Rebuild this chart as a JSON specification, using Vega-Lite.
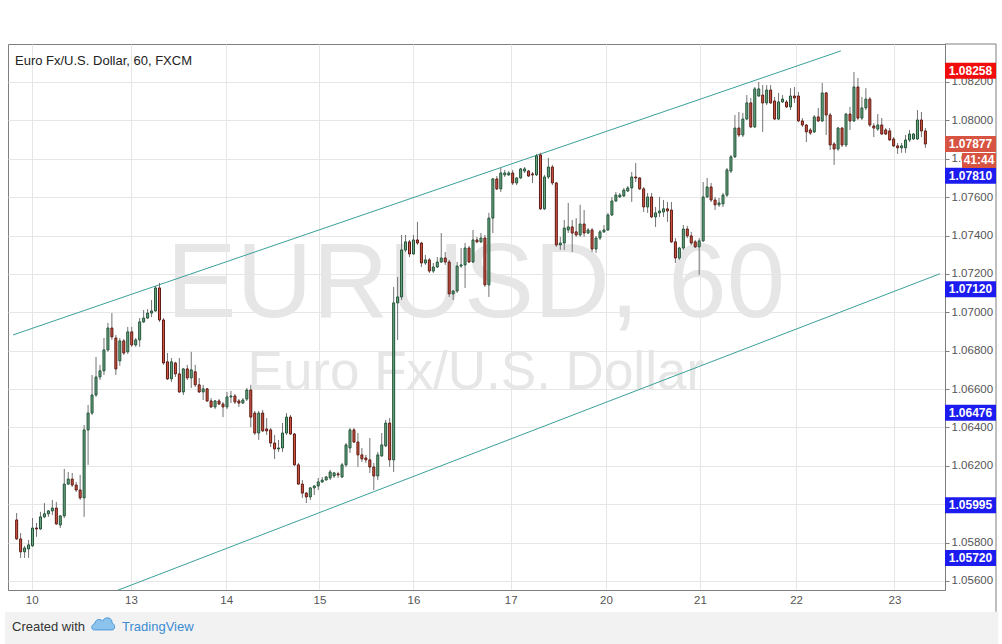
{
  "$schema": "https://vega.github.io/schema/vega-lite/v6.json",
  "width": 937,
  "height": 546,
  "autosize": "none",
  "padding": {"left": 8, "top": 44, "right": 57, "bottom": 54},
  "background": "#ffffff",
  "config": {
    "font": "Liberation Sans",
    "view": {"stroke": "#7f7f7f", "strokeWidth": 1}
  },
  "title": {
    "text": "Euro Fx/U.S. Dollar, 60, FXCM",
    "anchor": "start",
    "frame": "group",
    "offset": -24,
    "dx": 7,
    "fontSize": 13,
    "fontWeight": "normal",
    "color": "#222222",
    "font": "Liberation Sans"
  },
  "datasets": {
    "bars": [
      {"i":0,"o":1.05918,"c":1.05819,"h":1.05954,"l":1.05814},
      {"i":1,"o":1.05819,"c":1.05752,"h":1.0585,"l":1.0572},
      {"i":2,"o":1.05752,"c":1.05772,"h":1.05783,"l":1.0572},
      {"i":3,"o":1.05767,"c":1.05788,"h":1.05814,"l":1.0572},
      {"i":4,"o":1.05783,"c":1.05876,"h":1.05928,"l":1.05778},
      {"i":5,"o":1.05876,"c":1.05871,"h":1.05902,"l":1.0583},
      {"i":6,"o":1.05871,"c":1.05934,"h":1.0596,"l":1.05866},
      {"i":7,"o":1.05934,"c":1.0595,"h":1.06006,"l":1.05928},
      {"i":8,"o":1.0595,"c":1.05965,"h":1.0597,"l":1.05934},
      {"i":9,"o":1.05965,"c":1.0598,"h":1.06022,"l":1.05944},
      {"i":10,"o":1.0598,"c":1.05897,"h":1.06012,"l":1.05892},
      {"i":11,"o":1.05892,"c":1.05939,"h":1.05944,"l":1.05876},
      {"i":12,"o":1.05939,"c":1.06105,"h":1.06184,"l":1.05928},
      {"i":13,"o":1.06105,"c":1.06131,"h":1.06168,"l":1.061},
      {"i":14,"o":1.06131,"c":1.061,"h":1.06163,"l":1.0609},
      {"i":15,"o":1.061,"c":1.06074,"h":1.06116,"l":1.06064},
      {"i":16,"o":1.06074,"c":1.06033,"h":1.06153,"l":1.06022},
      {"i":17,"o":1.06033,"c":1.06387,"h":1.06413,"l":1.05934},
      {"i":18,"o":1.06387,"c":1.06475,"h":1.06517,"l":1.06205},
      {"i":19,"o":1.06475,"c":1.06569,"h":1.06673,"l":1.06465},
      {"i":20,"o":1.06569,"c":1.06663,"h":1.06767,"l":1.06559},
      {"i":21,"o":1.06663,"c":1.06695,"h":1.06726,"l":1.06647},
      {"i":22,"o":1.06695,"c":1.06804,"h":1.06866,"l":1.06673},
      {"i":23,"o":1.06804,"c":1.06918,"h":1.06945,"l":1.06794},
      {"i":24,"o":1.06918,"c":1.06872,"h":1.06996,"l":1.06856},
      {"i":25,"o":1.06866,"c":1.06705,"h":1.06882,"l":1.06673},
      {"i":26,"o":1.06747,"c":1.06851,"h":1.06866,"l":1.06721},
      {"i":27,"o":1.06851,"c":1.06788,"h":1.06861,"l":1.06778},
      {"i":28,"o":1.06794,"c":1.06898,"h":1.06924,"l":1.06783},
      {"i":29,"o":1.06898,"c":1.0683,"h":1.06924,"l":1.0682},
      {"i":30,"o":1.0683,"c":1.06856,"h":1.06866,"l":1.0682},
      {"i":31,"o":1.06856,"c":1.0695,"h":1.0697,"l":1.0682},
      {"i":32,"o":1.0695,"c":1.0697,"h":1.07012,"l":1.06944},
      {"i":33,"o":1.0697,"c":1.06996,"h":1.07017,"l":1.06965},
      {"i":34,"o":1.06996,"c":1.07007,"h":1.07064,"l":1.06975},
      {"i":35,"o":1.07007,"c":1.07127,"h":1.07137,"l":1.07002},
      {"i":36,"o":1.07127,"c":1.0696,"h":1.07153,"l":1.0695},
      {"i":37,"o":1.0696,"c":1.06736,"h":1.0697,"l":1.06726},
      {"i":38,"o":1.06742,"c":1.06653,"h":1.06788,"l":1.06647},
      {"i":39,"o":1.06653,"c":1.06742,"h":1.06762,"l":1.06637},
      {"i":40,"o":1.06736,"c":1.06679,"h":1.06742,"l":1.06663},
      {"i":41,"o":1.06679,"c":1.06585,"h":1.06762,"l":1.0658},
      {"i":42,"o":1.06585,"c":1.06705,"h":1.0671,"l":1.06569},
      {"i":43,"o":1.06705,"c":1.06658,"h":1.06726,"l":1.06647},
      {"i":44,"o":1.06658,"c":1.067,"h":1.06794,"l":1.06606},
      {"i":45,"o":1.0669,"c":1.06622,"h":1.06726,"l":1.06611},
      {"i":46,"o":1.06622,"c":1.06585,"h":1.06658,"l":1.0658},
      {"i":47,"o":1.06585,"c":1.06601,"h":1.06622,"l":1.06543},
      {"i":48,"o":1.06601,"c":1.06538,"h":1.06606,"l":1.06533},
      {"i":49,"o":1.06538,"c":1.06507,"h":1.06553,"l":1.06501},
      {"i":50,"o":1.06507,"c":1.06538,"h":1.06543,"l":1.06496},
      {"i":51,"o":1.06538,"c":1.06522,"h":1.06548,"l":1.06517},
      {"i":52,"o":1.06522,"c":1.06507,"h":1.06533,"l":1.06454},
      {"i":53,"o":1.06507,"c":1.06559,"h":1.06585,"l":1.06496},
      {"i":54,"o":1.06559,"c":1.06564,"h":1.0659,"l":1.06527},
      {"i":55,"o":1.06564,"c":1.06533,"h":1.06575,"l":1.06522},
      {"i":56,"o":1.06538,"c":1.06527,"h":1.06548,"l":1.06507},
      {"i":57,"o":1.06527,"c":1.06543,"h":1.06553,"l":1.06522},
      {"i":58,"o":1.06548,"c":1.06595,"h":1.06606,"l":1.06538},
      {"i":59,"o":1.06595,"c":1.06454,"h":1.06622,"l":1.06402},
      {"i":60,"o":1.06475,"c":1.06371,"h":1.06486,"l":1.06361},
      {"i":61,"o":1.06371,"c":1.06475,"h":1.06486,"l":1.06335},
      {"i":62,"o":1.06475,"c":1.06382,"h":1.06491,"l":1.06376},
      {"i":63,"o":1.06392,"c":1.06382,"h":1.06449,"l":1.06361},
      {"i":64,"o":1.06387,"c":1.06319,"h":1.06397,"l":1.06298},
      {"i":65,"o":1.06319,"c":1.06288,"h":1.06361,"l":1.06236},
      {"i":66,"o":1.06288,"c":1.06293,"h":1.06335,"l":1.06272},
      {"i":67,"o":1.06293,"c":1.06371,"h":1.06423,"l":1.06272},
      {"i":68,"o":1.06371,"c":1.06454,"h":1.06475,"l":1.06361},
      {"i":69,"o":1.06454,"c":1.06366,"h":1.06465,"l":1.06361},
      {"i":70,"o":1.06366,"c":1.06205,"h":1.06371,"l":1.062},
      {"i":71,"o":1.06205,"c":1.06105,"h":1.06215,"l":1.061},
      {"i":72,"o":1.06105,"c":1.06058,"h":1.06126,"l":1.06033},
      {"i":73,"o":1.06058,"c":1.06038,"h":1.06064,"l":1.06006},
      {"i":74,"o":1.06038,"c":1.06085,"h":1.0609,"l":1.06022},
      {"i":75,"o":1.06085,"c":1.06095,"h":1.061,"l":1.06048},
      {"i":76,"o":1.06095,"c":1.06116,"h":1.06137,"l":1.06074},
      {"i":77,"o":1.06116,"c":1.06126,"h":1.06142,"l":1.06111},
      {"i":78,"o":1.06126,"c":1.06142,"h":1.06147,"l":1.06131},
      {"i":79,"o":1.06137,"c":1.06168,"h":1.06179,"l":1.06126},
      {"i":80,"o":1.06147,"c":1.06163,"h":1.06168,"l":1.06137},
      {"i":81,"o":1.06158,"c":1.06153,"h":1.06168,"l":1.06137},
      {"i":82,"o":1.06142,"c":1.06205,"h":1.06215,"l":1.06137},
      {"i":83,"o":1.06205,"c":1.06309,"h":1.06319,"l":1.06194},
      {"i":84,"o":1.06293,"c":1.06387,"h":1.06397,"l":1.06267},
      {"i":85,"o":1.06387,"c":1.06324,"h":1.06397,"l":1.06319},
      {"i":86,"o":1.06324,"c":1.06257,"h":1.06371,"l":1.06194},
      {"i":87,"o":1.06257,"c":1.06236,"h":1.06293,"l":1.0622},
      {"i":88,"o":1.06241,"c":1.06231,"h":1.06257,"l":1.06215},
      {"i":89,"o":1.06231,"c":1.06194,"h":1.06345,"l":1.06163},
      {"i":90,"o":1.06194,"c":1.06147,"h":1.06215,"l":1.06074},
      {"i":91,"o":1.06147,"c":1.06257,"h":1.06272,"l":1.06126},
      {"i":92,"o":1.06252,"c":1.06309,"h":1.06371,"l":1.06246},
      {"i":93,"o":1.06304,"c":1.06423,"h":1.06439,"l":1.06298},
      {"i":94,"o":1.06423,"c":1.06231,"h":1.06449,"l":1.06194},
      {"i":95,"o":1.06231,"c":1.07049,"h":1.07132,"l":1.06168},
      {"i":96,"o":1.07049,"c":1.0708,"h":1.07184,"l":1.06856},
      {"i":97,"o":1.0708,"c":1.07325,"h":1.07403,"l":1.07064},
      {"i":98,"o":1.07325,"c":1.07367,"h":1.07403,"l":1.07314},
      {"i":99,"o":1.07367,"c":1.07304,"h":1.07377,"l":1.07288},
      {"i":100,"o":1.07304,"c":1.07377,"h":1.07403,"l":1.07299},
      {"i":101,"o":1.07377,"c":1.07361,"h":1.07471,"l":1.07351},
      {"i":102,"o":1.07361,"c":1.07257,"h":1.07367,"l":1.07236},
      {"i":103,"o":1.07257,"c":1.07273,"h":1.07299,"l":1.07247},
      {"i":104,"o":1.07273,"c":1.07215,"h":1.07283,"l":1.07205},
      {"i":105,"o":1.07215,"c":1.07236,"h":1.07257,"l":1.07205},
      {"i":106,"o":1.07236,"c":1.07262,"h":1.07288,"l":1.07231},
      {"i":107,"o":1.07262,"c":1.07283,"h":1.07413,"l":1.07257},
      {"i":108,"o":1.07283,"c":1.07262,"h":1.07314,"l":1.07247},
      {"i":109,"o":1.07262,"c":1.07096,"h":1.07273,"l":1.0708},
      {"i":110,"o":1.07096,"c":1.07111,"h":1.07116,"l":1.07064},
      {"i":111,"o":1.07111,"c":1.07241,"h":1.07262,"l":1.07101},
      {"i":112,"o":1.07241,"c":1.07247,"h":1.07335,"l":1.07231},
      {"i":113,"o":1.07247,"c":1.07335,"h":1.07361,"l":1.07127},
      {"i":114,"o":1.07335,"c":1.07262,"h":1.07346,"l":1.07257},
      {"i":115,"o":1.07262,"c":1.07377,"h":1.07429,"l":1.07257},
      {"i":116,"o":1.07377,"c":1.07367,"h":1.07393,"l":1.07361},
      {"i":117,"o":1.07367,"c":1.07387,"h":1.07413,"l":1.07361},
      {"i":118,"o":1.07387,"c":1.07143,"h":1.07403,"l":1.07132},
      {"i":119,"o":1.07143,"c":1.07491,"h":1.07518,"l":1.0708},
      {"i":120,"o":1.07491,"c":1.07695,"h":1.077,"l":1.07413},
      {"i":121,"o":1.07695,"c":1.07643,"h":1.0771,"l":1.07637},
      {"i":122,"o":1.07643,"c":1.07726,"h":1.07752,"l":1.07627},
      {"i":123,"o":1.07716,"c":1.07726,"h":1.07742,"l":1.07705},
      {"i":124,"o":1.07716,"c":1.07726,"h":1.07736,"l":1.0771},
      {"i":125,"o":1.07726,"c":1.07674,"h":1.07742,"l":1.07663},
      {"i":126,"o":1.07674,"c":1.077,"h":1.07705,"l":1.07663},
      {"i":127,"o":1.077,"c":1.07747,"h":1.07752,"l":1.07695},
      {"i":128,"o":1.07736,"c":1.07747,"h":1.07757,"l":1.07726},
      {"i":129,"o":1.07736,"c":1.0771,"h":1.07742,"l":1.07705},
      {"i":130,"o":1.07721,"c":1.07716,"h":1.07731,"l":1.07674},
      {"i":131,"o":1.07716,"c":1.07815,"h":1.07825,"l":1.0771},
      {"i":132,"o":1.0782,"c":1.07539,"h":1.07831,"l":1.07533},
      {"i":133,"o":1.07539,"c":1.07705,"h":1.07716,"l":1.07533},
      {"i":134,"o":1.07705,"c":1.07757,"h":1.07804,"l":1.07695},
      {"i":135,"o":1.07757,"c":1.07674,"h":1.07768,"l":1.07663},
      {"i":136,"o":1.07674,"c":1.07351,"h":1.07679,"l":1.07341},
      {"i":137,"o":1.07351,"c":1.07361,"h":1.07393,"l":1.07325},
      {"i":138,"o":1.07361,"c":1.07439,"h":1.07481,"l":1.07325},
      {"i":139,"o":1.07429,"c":1.07445,"h":1.0757,"l":1.07413},
      {"i":140,"o":1.07445,"c":1.07413,"h":1.07481,"l":1.07314},
      {"i":141,"o":1.07419,"c":1.07403,"h":1.07491,"l":1.07393},
      {"i":142,"o":1.07403,"c":1.0746,"h":1.0756,"l":1.07393},
      {"i":143,"o":1.0746,"c":1.07413,"h":1.07533,"l":1.07393},
      {"i":144,"o":1.07413,"c":1.07429,"h":1.07439,"l":1.07408},
      {"i":145,"o":1.07429,"c":1.0733,"h":1.07439,"l":1.07314},
      {"i":146,"o":1.0733,"c":1.07387,"h":1.07398,"l":1.07309},
      {"i":147,"o":1.07387,"c":1.07419,"h":1.07429,"l":1.07377},
      {"i":148,"o":1.07419,"c":1.07429,"h":1.07455,"l":1.07413},
      {"i":149,"o":1.07429,"c":1.07507,"h":1.07518,"l":1.07424},
      {"i":150,"o":1.07507,"c":1.0758,"h":1.07601,"l":1.07502},
      {"i":151,"o":1.0758,"c":1.07611,"h":1.07627,"l":1.07575},
      {"i":152,"o":1.07601,"c":1.07611,"h":1.07622,"l":1.07596},
      {"i":153,"o":1.07606,"c":1.07637,"h":1.07648,"l":1.07601},
      {"i":154,"o":1.07632,"c":1.07648,"h":1.07658,"l":1.07627},
      {"i":155,"o":1.07648,"c":1.07705,"h":1.07731,"l":1.07575},
      {"i":156,"o":1.07705,"c":1.077,"h":1.07778,"l":1.07679},
      {"i":157,"o":1.077,"c":1.07643,"h":1.07705,"l":1.07637},
      {"i":158,"o":1.07643,"c":1.07549,"h":1.07653,"l":1.07523},
      {"i":159,"o":1.07549,"c":1.07601,"h":1.07622,"l":1.07518},
      {"i":160,"o":1.07601,"c":1.07497,"h":1.07622,"l":1.07491},
      {"i":161,"o":1.07497,"c":1.07518,"h":1.07549,"l":1.07445},
      {"i":162,"o":1.07518,"c":1.07528,"h":1.07601,"l":1.07497},
      {"i":163,"o":1.07523,"c":1.07539,"h":1.07585,"l":1.07497},
      {"i":164,"o":1.07539,"c":1.07528,"h":1.07575,"l":1.07471},
      {"i":165,"o":1.07533,"c":1.07367,"h":1.07575,"l":1.07361},
      {"i":166,"o":1.07367,"c":1.07283,"h":1.07387,"l":1.07257},
      {"i":167,"o":1.07283,"c":1.07335,"h":1.07341,"l":1.07273},
      {"i":168,"o":1.07335,"c":1.07434,"h":1.07455,"l":1.07325},
      {"i":169,"o":1.07434,"c":1.07398,"h":1.0745,"l":1.07387},
      {"i":170,"o":1.07398,"c":1.07361,"h":1.07419,"l":1.07351},
      {"i":171,"o":1.07367,"c":1.07341,"h":1.07377,"l":1.07335},
      {"i":172,"o":1.07341,"c":1.07372,"h":1.07387,"l":1.07195},
      {"i":173,"o":1.07372,"c":1.07601,"h":1.07679,"l":1.07367},
      {"i":174,"o":1.07601,"c":1.07653,"h":1.077,"l":1.07596},
      {"i":175,"o":1.07653,"c":1.07585,"h":1.07674,"l":1.07575},
      {"i":176,"o":1.07585,"c":1.0756,"h":1.07601,"l":1.07533},
      {"i":177,"o":1.0756,"c":1.0757,"h":1.07596,"l":1.07549},
      {"i":178,"o":1.07565,"c":1.07611,"h":1.07622,"l":1.07549},
      {"i":179,"o":1.07611,"c":1.07742,"h":1.07752,"l":1.07601},
      {"i":180,"o":1.07736,"c":1.0781,"h":1.0782,"l":1.07726},
      {"i":181,"o":1.0781,"c":1.0796,"h":1.08028,"l":1.07804},
      {"i":182,"o":1.0796,"c":1.07924,"h":1.08044,"l":1.07913},
      {"i":183,"o":1.07924,"c":1.08007,"h":1.08039,"l":1.07913},
      {"i":184,"o":1.08007,"c":1.08091,"h":1.08132,"l":1.08002},
      {"i":185,"o":1.08091,"c":1.07966,"h":1.08117,"l":1.0796},
      {"i":186,"o":1.07966,"c":1.08164,"h":1.08174,"l":1.0796},
      {"i":187,"o":1.08127,"c":1.08164,"h":1.082,"l":1.08122},
      {"i":188,"o":1.08132,"c":1.08091,"h":1.08184,"l":1.0794},
      {"i":189,"o":1.08091,"c":1.08158,"h":1.08184,"l":1.0808},
      {"i":190,"o":1.08158,"c":1.08091,"h":1.08184,"l":1.08085},
      {"i":191,"o":1.08101,"c":1.08007,"h":1.08122,"l":1.08002},
      {"i":192,"o":1.08007,"c":1.08096,"h":1.08143,"l":1.08002},
      {"i":193,"o":1.08096,"c":1.08111,"h":1.08132,"l":1.08091},
      {"i":194,"o":1.08096,"c":1.0807,"h":1.08106,"l":1.08065},
      {"i":195,"o":1.0807,"c":1.08127,"h":1.08168,"l":1.08054},
      {"i":196,"o":1.08127,"c":1.08117,"h":1.08174,"l":1.08091},
      {"i":197,"o":1.08127,"c":1.07997,"h":1.08148,"l":1.07992},
      {"i":198,"o":1.07997,"c":1.07976,"h":1.08012,"l":1.07966},
      {"i":199,"o":1.07976,"c":1.0794,"h":1.07981,"l":1.07887},
      {"i":200,"o":1.0795,"c":1.07934,"h":1.0796,"l":1.07924},
      {"i":201,"o":1.0794,"c":1.08018,"h":1.08028,"l":1.07934},
      {"i":202,"o":1.08018,"c":1.07997,"h":1.08065,"l":1.07992},
      {"i":203,"o":1.07997,"c":1.08143,"h":1.08195,"l":1.07992},
      {"i":204,"o":1.08143,"c":1.08028,"h":1.08148,"l":1.07924},
      {"i":205,"o":1.08028,"c":1.07872,"h":1.08039,"l":1.07846},
      {"i":206,"o":1.07877,"c":1.07851,"h":1.07887,"l":1.07768},
      {"i":207,"o":1.07851,"c":1.0796,"h":1.07966,"l":1.07841},
      {"i":208,"o":1.0796,"c":1.07872,"h":1.07966,"l":1.07861},
      {"i":209,"o":1.07872,"c":1.08033,"h":1.08039,"l":1.07861},
      {"i":210,"o":1.08033,"c":1.07997,"h":1.0807,"l":1.0795},
      {"i":211,"o":1.07997,"c":1.08174,"h":1.08252,"l":1.07992},
      {"i":212,"o":1.08174,"c":1.08012,"h":1.08221,"l":1.08002},
      {"i":213,"o":1.08012,"c":1.08065,"h":1.08122,"l":1.08002},
      {"i":214,"o":1.08065,"c":1.08111,"h":1.08168,"l":1.08054},
      {"i":215,"o":1.08111,"c":1.07976,"h":1.08122,"l":1.07966},
      {"i":216,"o":1.07971,"c":1.0796,"h":1.07986,"l":1.07913},
      {"i":217,"o":1.07955,"c":1.07976,"h":1.08033,"l":1.07945},
      {"i":218,"o":1.07976,"c":1.07929,"h":1.08012,"l":1.07924},
      {"i":219,"o":1.0795,"c":1.07929,"h":1.0796,"l":1.07924},
      {"i":220,"o":1.07945,"c":1.07898,"h":1.0796,"l":1.07893},
      {"i":221,"o":1.07903,"c":1.07867,"h":1.07913,"l":1.07861},
      {"i":222,"o":1.07867,"c":1.07857,"h":1.07882,"l":1.07825},
      {"i":223,"o":1.07857,"c":1.07867,"h":1.07882,"l":1.07831},
      {"i":224,"o":1.07857,"c":1.07898,"h":1.07924,"l":1.07831},
      {"i":225,"o":1.07898,"c":1.07929,"h":1.0795,"l":1.07887},
      {"i":226,"o":1.07903,"c":1.07929,"h":1.07934,"l":1.07898},
      {"i":227,"o":1.07903,"c":1.08002,"h":1.08054,"l":1.07898},
      {"i":228,"o":1.08002,"c":1.07945,"h":1.08044,"l":1.07913},
      {"i":229,"o":1.07945,"c":1.07877,"h":1.0796,"l":1.07857}
    ],
    "levels": [
      {"p": 1.08258, "col": "#ff0000"},
      {"p": 1.0781, "col": "#14148c"},
      {"p": 1.0712, "col": "#14148c"},
      {"p": 1.06476, "col": "#14148c"},
      {"p": 1.05995, "col": "#14148c"},
      {"p": 1.0572, "col": "#14148c"},
      {"p": 1.05611, "col": "#14148c"}
    ],
    "channel": [
      {"line": "upper", "i": -0.92, "p": 1.06882},
      {"line": "upper", "i": 207.7, "p": 1.08362},
      {"line": "lower", "i": 20, "p": 1.05508},
      {"line": "lower", "i": 232.68, "p": 1.07201}
    ],
    "tags": [
      {"p": 1.08258, "label": "1.08258", "bg": "#f20d0d"},
      {"p": 1.07877, "label": "1.07877", "bg": "#d75442"},
      {"p": 1.0712, "label": "1.07120", "bg": "#1c1cf0"},
      {"p": 1.06476, "label": "1.06476", "bg": "#1c1cf0"},
      {"p": 1.05995, "label": "1.05995", "bg": "#1c1cf0"},
      {"p": 1.0572, "label": "1.05720", "bg": "#1c1cf0"}
    ]
  },
  "encoding": {
    "x": {
      "field": "i",
      "type": "quantitative",
      "scale": {"domain": [-0.92, 232.68], "nice": false, "zero": false},
      "axis": {
        "orient": "bottom",
        "title": null,
        "values": [3.8, 28.8, 52.8, 76.3, 100, 124.5, 148.5, 172.2, 196.4, 221.2],
        "labelExpr": "datum.value < 10 ? '10' : datum.value < 40 ? '13' : datum.value < 60 ? '14' : datum.value < 90 ? '15' : datum.value < 110 ? '16' : datum.value < 130 ? '17' : datum.value < 160 ? '20' : datum.value < 180 ? '21' : datum.value < 210 ? '22' : '23'",
        "grid": true,
        "gridColor": "#e6e6e6",
        "domainColor": "#7f7f7f",
        "ticks": false,
        "labelColor": "#555555",
        "labelFontSize": 11.5,
        "labelPadding": 4,
        "labelFont": "Liberation Sans"
      }
    },
    "y": {
      "type": "quantitative",
      "scale": {"domain": [1.05553, 1.08398], "nice": false, "zero": false},
      "axis": {
        "orient": "right",
        "title": null,
        "values": [1.056, 1.058, 1.06, 1.062, 1.064, 1.066, 1.068, 1.07, 1.072, 1.074, 1.076, 1.078, 1.08, 1.082],
        "format": ".5f",
        "grid": true,
        "gridColor": "#e6e6e6",
        "domainColor": "#7f7f7f",
        "tickColor": "#7f7f7f",
        "tickSize": 4,
        "labelColor": "#555555",
        "labelFontSize": 11.5,
        "labelPadding": 2,
        "labelFont": "Liberation Sans"
      }
    }
  },
  "layer": [
    {
      "data": {"values": [{"x0": -2.92, "x1": 247.4, "y0": 1.05439, "y1": 1.05272}]},
      "mark": {"type": "rect", "fill": "#f2f2f2"},
      "encoding": {
        "x": {"field": "x0", "type": "quantitative"},
        "x2": {"field": "x1"},
        "y": {"field": "y0", "type": "quantitative"},
        "y2": {"field": "y1"}
      }
    },
    {
      "data": {"values": [{"p": 1.08398}]},
      "mark": {"type": "rule", "color": "#7f7f7f", "strokeWidth": 1, "x2Offset": 51},
      "encoding": {
        "x": {"value": "width"},
        "x2": {"value": "width"},
        "y": {"field": "p", "type": "quantitative"}
      }
    },
    {
      "data": {"values": [{"a": 1.08398, "b": 1.05439}]},
      "mark": {"type": "rule", "color": "#7f7f7f", "strokeWidth": 1, "xOffset": 51},
      "encoding": {
        "x": {"value": "width"},
        "y": {"field": "a", "type": "quantitative"},
        "y2": {"field": "b"}
      }
    },
    {
      "data": {"values": [{"t": "Created with", "i": -1.17, "p": 1.0536, "col": "#333333"}, {"t": "TradingView", "i": 26.56, "p": 1.0536, "col": "#3a8bd4"}]},
      "mark": {"type": "text", "align": "left", "baseline": "middle", "fontSize": 13, "font": "Liberation Sans"},
      "encoding": {
        "x": {"field": "i", "type": "quantitative"},
        "y": {"field": "p", "type": "quantitative"},
        "text": {"field": "t"},
        "color": {"field": "col", "type": "nominal", "scale": null}
      }
    },
    {
      "data": {"values": [{"i": 21.8, "p": 1.05371}]},
      "mark": {"type": "point", "filled": true, "size": 500, "fill": "#8cc3ec", "stroke": "#3a8bd4", "strokeWidth": 0.8, "opacity": 1, "shape": "M -0.8 0.45 C -1.1 0.45 -1.1 -0.05 -0.75 -0.1 C -0.75 -0.5 -0.25 -0.6 -0.05 -0.35 C 0.15 -0.8 0.85 -0.7 0.8 -0.15 C 1.1 -0.1 1.1 0.45 0.8 0.45 Z"},
      "encoding": {
        "x": {"field": "i", "type": "quantitative"},
        "y": {"field": "p", "type": "quantitative"}
      }
    },
    {
      "data": {"values": [{"t": "EURUSD, 60", "i": 115.7, "p": 1.07142, "s": 105}, {"t": "Euro Fx/U.S. Dollar", "i": 115.7, "p": 1.06683, "s": 53}]},
      "mark": {"type": "text", "align": "center", "baseline": "middle", "color": "#e6e6e6", "font": "Liberation Sans"},
      "encoding": {
        "x": {"field": "i", "type": "quantitative"},
        "y": {"field": "p", "type": "quantitative"},
        "text": {"field": "t"},
        "size": {"field": "s", "type": "quantitative", "scale": null}
      }
    },
    {
      "data": {"name": "channel"},
      "mark": {"type": "line", "color": "#3aa198", "strokeWidth": 1, "clip": true},
      "encoding": {
        "x": {"field": "i", "type": "quantitative"},
        "y": {"field": "p", "type": "quantitative"},
        "detail": {"field": "line"}
      }
    },
    {
      "data": {"name": "levels"},
      "mark": {"type": "rule", "strokeWidth": 1},
      "encoding": {
        "y": {"field": "p", "type": "quantitative"},
        "color": {"field": "col", "type": "nominal", "scale": null}
      }
    },
    {
      "data": {"values": [{"p": 1.07877}]},
      "mark": {"type": "rule", "strokeWidth": 1, "strokeDash": [1, 2], "color": "#c0392b"},
      "encoding": {"y": {"field": "p", "type": "quantitative"}}
    },
    {
      "data": {"name": "bars"},
      "mark": {"type": "rule", "color": "#737375", "strokeWidth": 1},
      "encoding": {
        "x": {"field": "i", "type": "quantitative"},
        "y": {"field": "l", "type": "quantitative"},
        "y2": {"field": "h"}
      }
    },
    {
      "data": {"name": "bars"},
      "mark": {"type": "bar", "size": 2, "strokeWidth": 1},
      "encoding": {
        "x": {"field": "i", "type": "quantitative"},
        "y": {"field": "o", "type": "quantitative"},
        "y2": {"field": "c"},
        "fill": {"condition": {"test": "datum.c >= datum.o", "value": "#6ba583"}, "value": "#d75442"},
        "stroke": {"condition": {"test": "datum.c >= datum.o", "value": "#225437"}, "value": "#5b1a13"}
      }
    },
    {
      "data": {"name": "tags"},
      "mark": {"type": "rect", "x2Offset": 51, "yOffset": -8, "y2Offset": 8},
      "encoding": {
        "x": {"value": "width"},
        "x2": {"value": "width"},
        "y": {"field": "p", "type": "quantitative"},
        "y2": {"field": "p"},
        "fill": {"field": "bg", "type": "nominal", "scale": null}
      }
    },
    {
      "data": {"name": "tags"},
      "mark": {"type": "text", "align": "center", "baseline": "middle", "dx": 25.5, "color": "#ffffff", "fontSize": 12, "fontWeight": "bold", "font": "Liberation Sans"},
      "encoding": {
        "x": {"value": "width"},
        "y": {"field": "p", "type": "quantitative"},
        "text": {"field": "label"}
      }
    },
    {
      "data": {"values": [{"p": 1.0781, "label": "1.07810"}]},
      "mark": {"type": "rect", "x2Offset": 51, "yOffset": 11, "y2Offset": 27, "fill": "#1c1cf0"},
      "encoding": {
        "x": {"value": "width"},
        "x2": {"value": "width"},
        "y": {"field": "p", "type": "quantitative"},
        "y2": {"field": "p"}
      }
    },
    {
      "data": {"values": [{"p": 1.0781, "label": "1.07810"}]},
      "mark": {"type": "text", "align": "center", "baseline": "middle", "dx": 25.5, "dy": 19, "color": "#ffffff", "fontSize": 12, "fontWeight": "bold", "font": "Liberation Sans"},
      "encoding": {
        "x": {"value": "width"},
        "y": {"field": "p", "type": "quantitative"},
        "text": {"field": "label"}
      }
    },
    {
      "data": {"values": [{"p": 1.07877, "label": "41:44"}]},
      "mark": {"type": "rect", "xOffset": 17, "x2Offset": 51, "yOffset": 9, "y2Offset": 24, "fill": "#d75442"},
      "encoding": {
        "x": {"value": "width"},
        "x2": {"value": "width"},
        "y": {"field": "p", "type": "quantitative"},
        "y2": {"field": "p"}
      }
    },
    {
      "data": {"values": [{"p": 1.07877, "label": "41:44"}]},
      "mark": {"type": "text", "align": "center", "baseline": "middle", "dx": 34, "dy": 16.5, "color": "#ffffff", "fontSize": 12, "fontWeight": "bold", "font": "Liberation Sans"},
      "encoding": {
        "x": {"value": "width"},
        "y": {"field": "p", "type": "quantitative"},
        "text": {"field": "label"}
      }
    }
  ]
}
